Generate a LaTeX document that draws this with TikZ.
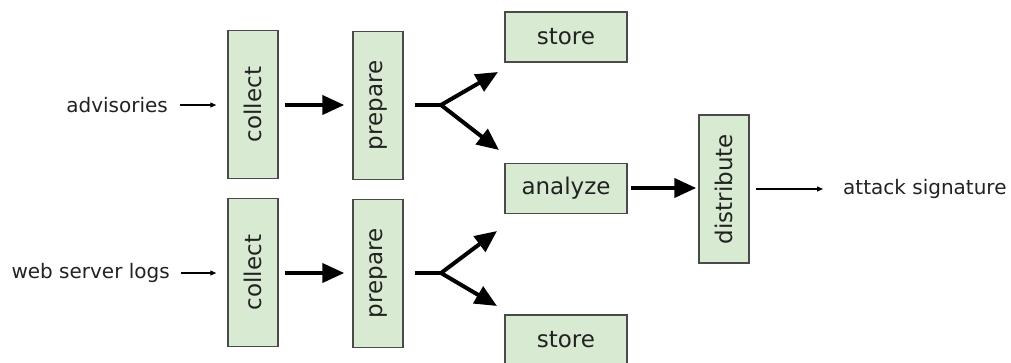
\documentclass[tikz,border=0pt]{standalone}
\usepackage{fontspec}
\setmainfont{DejaVu Sans}
\usetikzlibrary{arrows.meta}
\definecolor{boxfill}{HTML}{D9EAD3}
\definecolor{boxline}{HTML}{4A4A4A}
\definecolor{txt}{HTML}{222222}
\tikzset{
  stage/.style={draw=boxline, fill=boxfill, line width=1.5pt, inner sep=0pt,
    font=\fontsize{23}{26}\selectfont, text=txt},
  tall/.style={stage, minimum width=50pt, minimum height=148pt},
  wide/.style={stage, minimum width=122pt, minimum height=50pt},
  lbl/.style={inner sep=0pt, font=\fontsize{20}{23}\selectfont, text=txt},
  bigarrow/.style={line width=4pt, -{Triangle[length=22pt,width=19pt]}},
  thickline/.style={line width=4pt},
  thinarrow/.style={line width=1.3pt, -{Triangle[length=6pt,width=5pt]}},
}
\begin{document}
\begin{tikzpicture}[x=1pt,y=-1pt]
\useasboundingbox (0,0) rectangle (1011,363);

% processing stages
\node[tall] (c1) at (253,104.5) {\rotatebox{90}{collect}};
\node[tall] (p1) at (378,105.5) {\rotatebox{90}{prepare}};
\node[tall] (c2) at (253,272.5) {\rotatebox{90}{collect}};
\node[tall] (p2) at (378,273.5) {\rotatebox{90}{prepare}};
\node[wide] (s1) at (566,37) {store};
\node[wide] (an) at (566,188.5) {analyze};
\node[wide] (s2) at (566,340) {store};
\node[tall] (ds) at (724,189) {\rotatebox{90}{distribute}};

% sources and result
\node[lbl, anchor=east] (adv) at (168,105) {advisories};
\node[lbl, anchor=east] (web) at (170,273) {web server logs};
\node[lbl, anchor=west] (sig) at (843,189) {attack signature};

% branch points and arrow ends
\coordinate (j1) at (441,105);
\coordinate (j2) at (441,273);
\coordinate (t1a) at (498,72);
\coordinate (t1b) at (499,150);
\coordinate (t2a) at (497,231);
\coordinate (t2b) at (497,306);

% inputs
\draw[thinarrow, shorten <=12pt, shorten >=11pt] (adv.east) -- (c1.west |- adv.east);
\draw[thinarrow, shorten <=11pt, shorten >=11pt] (web.east) -- (c2.west |- web.east);

% collect -> prepare
\draw[bigarrow, shorten <=6pt, shorten >=8pt] (c1.east |- 0,105) -- (p1.west |- 0,105);
\draw[bigarrow, shorten <=6pt, shorten >=8pt] (c2.east |- 0,273) -- (p2.west |- 0,273);

% prepare -> store / analyze
\draw[thickline, shorten <=11pt] (p1.east |- j1) -- (j1);
\draw[bigarrow] (j1) -- (t1a);
\draw[bigarrow] (j1) -- (t1b);
\draw[thickline, shorten <=11pt] (p2.east |- j2) -- (j2);
\draw[bigarrow] (j2) -- (t2a);
\draw[bigarrow] (j2) -- (t2b);

% analyze -> distribute -> signature
\draw[bigarrow, shorten <=3pt, shorten >=2pt] (an.east |- 0,188) -- (ds.west |- 0,188);
\draw[thinarrow, shorten <=6pt, shorten >=20pt] (ds.east |- sig.west) -- (sig.west);
\end{tikzpicture}
\end{document}
